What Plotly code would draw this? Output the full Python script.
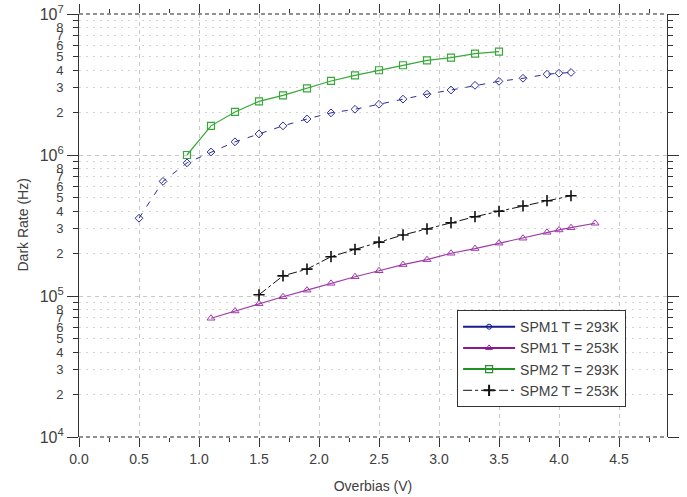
import plotly.graph_objects as go

# ---- data ----
x_spm1_293 = [0.5, 0.7, 0.9, 1.1, 1.3, 1.5, 1.7, 1.9, 2.1, 2.3, 2.5, 2.7, 2.9, 3.1, 3.3, 3.5, 3.7, 3.9, 4.0, 4.1]
y_spm1_293 = [3.56e5, 6.5e5, 8.8e5, 1.05e6, 1.24e6, 1.41e6, 1.61e6, 1.80e6, 1.99e6, 2.11e6, 2.29e6,
              2.49e6, 2.70e6, 2.89e6, 3.12e6, 3.33e6, 3.50e6, 3.74e6, 3.80e6, 3.85e6]

x_spm1_253 = [1.1, 1.3, 1.5, 1.7, 1.9, 2.1, 2.3, 2.5, 2.7, 2.9, 3.1, 3.3, 3.5, 3.7, 3.9, 4.0, 4.1, 4.3]
y_spm1_253 = [6.95e4, 7.83e4, 8.82e4, 9.88e4, 1.10e5, 1.23e5, 1.37e5, 1.51e5, 1.67e5, 1.81e5, 2.01e5,
              2.17e5, 2.37e5, 2.57e5, 2.83e5, 2.94e5, 3.05e5, 3.28e5]

x_spm2_293 = [0.9, 1.1, 1.3, 1.5, 1.7, 1.9, 2.1, 2.3, 2.5, 2.7, 2.9, 3.1, 3.3, 3.5]
y_spm2_293 = [1.0e6, 1.61e6, 2.02e6, 2.40e6, 2.65e6, 2.97e6, 3.35e6, 3.67e6, 3.99e6, 4.33e6, 4.69e6,
              4.90e6, 5.23e6, 5.41e6]

x_spm2_253 = [1.5, 1.7, 1.9, 2.1, 2.3, 2.5, 2.7, 2.9, 3.1, 3.3, 3.5, 3.7, 3.9, 4.1]
y_spm2_253 = [1.02e5, 1.39e5, 1.55e5, 1.90e5, 2.14e5, 2.41e5, 2.71e5, 2.99e5, 3.31e5, 3.65e5, 3.99e5,
              4.35e5, 4.74e5, 5.14e5]

series_names = ["SPM1 T = 293K", "SPM1 T = 253K", "SPM2 T = 293K", "SPM2 T = 253K"]

x_tick_vals = [0.0, 0.5, 1.0, 1.5, 2.0, 2.5, 3.0, 3.5, 4.0, 4.5]
x_tick_text = ["0.0", "0.5", "1.0", "1.5", "2.0", "2.5", "3.0", "3.5", "4.0", "4.5"]
decades = [1e4, 1e5, 1e6, 1e7]
decade_text = ["10<sup>4</sup>", "10<sup>5</sup>", "10<sup>6</sup>", "10<sup>7</sup>"]
minor_mult = [2, 3, 4, 5, 6, 7, 8, 9]
labelled_mult = [2, 3, 4, 5, 6, 7, 8]

minor_vals = [m * d for d in decades[:-1] for m in minor_mult]
minor_label_vals = [m * d for d in decades[:-1] for m in labelled_mult]
minor_label_text = [str(m) for d in decades[:-1] for m in labelled_mult]

BLUE = "#2b2b9c"
PURPLE = "#a03aa8"
GREEN = "#38a838"
BLACK = "#111111"
TXT = "#404040"

fig = go.Figure()

# actual data traces
fig.add_trace(go.Scatter(x=x_spm1_293, y=y_spm1_293, mode="lines+markers", showlegend=False,
                         line=dict(color=BLUE, width=1, dash="6px,8px"),
                         marker=dict(symbol="diamond-open", size=6, color=BLUE, line=dict(width=1))))
fig.add_trace(go.Scatter(x=x_spm1_253, y=y_spm1_253, mode="lines+markers", showlegend=False,
                         line=dict(color=PURPLE, width=1.2),
                         marker=dict(symbol="triangle-up-open", size=7, color=PURPLE, line=dict(width=1))))
fig.add_trace(go.Scatter(x=x_spm2_293, y=y_spm2_293, mode="lines+markers", showlegend=False,
                         line=dict(color=GREEN, width=1.2),
                         marker=dict(symbol="square-open", size=7, color=GREEN, line=dict(width=1.2))))
fig.add_trace(go.Scatter(x=x_spm2_253, y=y_spm2_253, mode="lines+markers", showlegend=False,
                         line=dict(color=BLACK, width=1, dash="dashdot"),
                         marker=dict(symbol="cross-thin", size=8, color=BLACK, line=dict(width=1.6, color=BLACK))))

# legend proxies (legend shows solid thicker lines)
fig.add_trace(go.Scatter(x=[None], y=[None], mode="lines+markers", name=series_names[0],
                         line=dict(color="#1a1a90", width=2),
                         marker=dict(symbol="circle-open", size=5, color="#1a1a90", line=dict(width=1))))
fig.add_trace(go.Scatter(x=[None], y=[None], mode="lines+markers", name=series_names[1],
                         line=dict(color="#8a1a90", width=2),
                         marker=dict(symbol="triangle-up-open", size=6, color="#8a1a90", line=dict(width=1))))
fig.add_trace(go.Scatter(x=[None], y=[None], mode="lines+markers", name=series_names[2],
                         line=dict(color="#239023", width=2),
                         marker=dict(symbol="square-open", size=7, color="#239023", line=dict(width=1.2))))
fig.add_trace(go.Scatter(x=[None], y=[None], mode="lines+markers", name=series_names[3],
                         line=dict(color=BLACK, width=1, dash="dashdot"),
                         marker=dict(symbol="cross-thin", size=8, color=BLACK, line=dict(width=2, color=BLACK))))

# dummy trace for overlay axis holding minor digit labels
fig.add_trace(go.Scatter(x=[None], y=[None], yaxis="y2", showlegend=False, hoverinfo="skip"))

# dashed top/bottom frame
fig.add_shape(type="line", xref="paper", yref="paper", x0=0, x1=1, y0=1, y1=1,
              line=dict(color="#222", width=1, dash="4px,3px"))
fig.add_shape(type="line", xref="paper", yref="paper", x0=0, x1=1, y0=0, y1=0,
              line=dict(color="#222", width=1, dash="4px,3px"))

# y axis title as rotated text
fig.add_annotation(text="Dark Rate (Hz)", textangle=-90, xref="paper", yref="paper",
                   x=-57 / 588, y=0.5, xanchor="center", yanchor="middle", showarrow=False,
                   font=dict(size=14, color=TXT))

fig.update_layout(
    width=687, height=497,
    margin=dict(l=79, r=20, t=14, b=60),
    paper_bgcolor="white", plot_bgcolor="white",
    font=dict(family="Liberation Sans, Arial, sans-serif", color=TXT, size=13),
    xaxis=dict(
        range=[0, 4.9], tickmode="array", tickvals=x_tick_vals, ticktext=x_tick_text,
        ticks="outside", ticklen=9, tickcolor="#333", tickwidth=1, mirror="ticks",
        showline=False, zeroline=False, automargin=False,
        showgrid=True, gridcolor="#c8c8c8", griddash="4px,4px", gridwidth=1,
        minor=dict(dtick=0.25, ticks="outside", ticklen=4, tickcolor="#333", showgrid=False),
        tickfont=dict(size=14, color=TXT),
        title=dict(text="Overbias (V)", font=dict(size=14, color=TXT)),
    ),
    yaxis=dict(
        type="log", range=[4, 7], tickmode="array", tickvals=decades, ticktext=decade_text,
        ticks="outside", ticklen=11, tickcolor="#333", showline=True, linecolor="#333", linewidth=1.2,
        mirror="ticks", zeroline=False, automargin=False, ticklabeloverflow="allow",
        showgrid=True, gridcolor="#c8c8c8", griddash="4px,4px",
        minor=dict(tickvals=minor_vals, ticks="outside", ticklen=5, tickcolor="#333",
                   showgrid=True, gridcolor="#d4d4d4", griddash="2px,5px"),
        tickfont=dict(size=16, color=TXT),
    ),
    yaxis2=dict(
        type="log", range=[4, 7], overlaying="y", side="left", anchor="x",
        tickmode="array", tickvals=minor_label_vals, ticktext=minor_label_text,
        ticks="outside", ticklen=12, tickcolor="rgba(0,0,0,0)",
        showgrid=False, zeroline=False, showline=False, automargin=False,
        tickfont=dict(size=13, color=TXT),
    ),
    legend=dict(
        x=0.643, y=0.30, xanchor="left", yanchor="top",
        bgcolor="white", bordercolor="#333", borderwidth=1,
        font=dict(size=14, color=TXT), itemwidth=52, tracegroupgap=0,
    ),
)

# remove the browser's default 8px body margin so the figure sits at the page origin
fig.write_html("out.html", post_script="document.body.style.margin='0';",
               config={"displayModeBar": False})
